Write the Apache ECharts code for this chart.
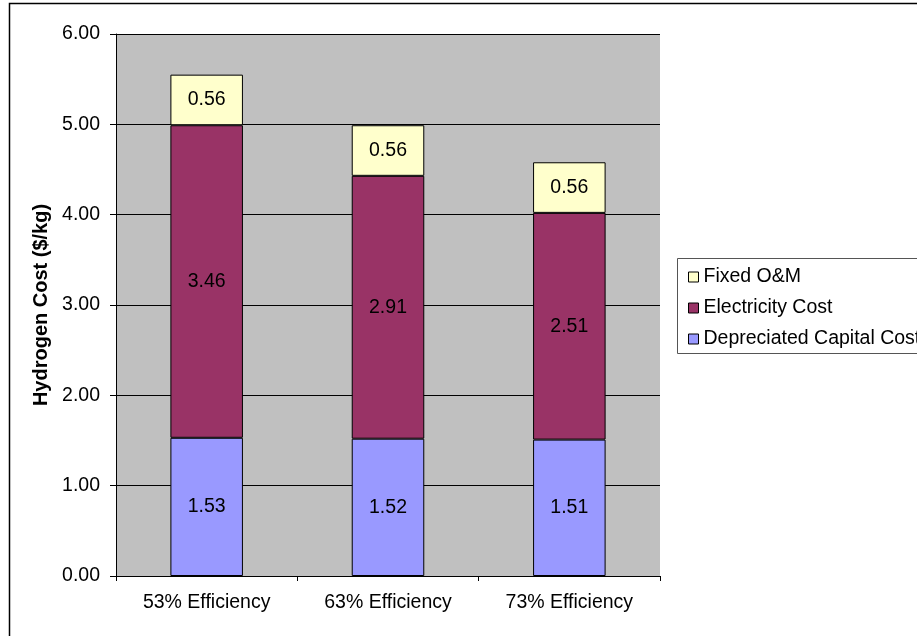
<!DOCTYPE html>
<html>
<head>
<meta charset="utf-8">
<title>Hydrogen Cost by Efficiency</title>
<script src="https://cdn.jsdelivr.net/npm/echarts@6/dist/echarts.min.js"></script>
<style>
  html, body { margin: 0; padding: 0; background: #ffffff; }
  #chart { width: 917px; height: 636px; }
</style>
</head>
<body>
<div id="chart"></div>
<script>
// Cost breakdown per efficiency case ($/kg of hydrogen)
const categories = ['53% Efficiency', '63% Efficiency', '73% Efficiency'];
const capitalCost = [1.53, 1.52, 1.51];
const electricityCost = [3.46, 2.91, 2.51];
const fixedOM = [0.56, 0.56, 0.56];
const seriesNames = ['Depreciated Capital Cost', 'Electricity Cost', 'Fixed O&M'];
const yTicks = [0, 1, 2, 3, 4, 5, 6];

const FONT = 'Liberation Sans, Arial, sans-serif';
const FS = 19.5;

const chart = echarts.init(document.getElementById('chart'), null, { renderer: 'canvas' });

function barSeries(name, values, color) {
  return {
    name: name,
    type: 'bar',
    stack: 'cost',
    barWidth: '40%',
    data: values,
    itemStyle: { color: color, borderColor: '#000000', borderWidth: 1 },
    label: {
      show: true,
      position: 'inside',
      color: '#000000',
      fontFamily: FONT,
      fontSize: FS,
      formatter: p => p.value.toFixed(2)
    },
    emphasis: { disabled: true }
  };
}

chart.setOption({
  animation: false,
  backgroundColor: '#ffffff',
  graphic: [
    {
      type: 'rect', z: 0, silent: true,
      shape: { x: 9.5, y: 3.5, width: 1000, height: 1000 },
      style: { fill: 'none', stroke: '#000000', lineWidth: 1.5 }
    },
    {
      type: 'rect', z: 0, silent: true,
      shape: { x: 677.5, y: 258.5, width: 400, height: 95 },
      style: { fill: '#ffffff', stroke: '#555555', lineWidth: 1 }
    }
  ],
  grid: {
    left: 116, top: 34, right: 257, bottom: 60,
    show: true, backgroundColor: '#c0c0c0', borderWidth: 0
  },
  legend: {
    orient: 'vertical',
    left: 683, top: 262,
    icon: 'rect',
    itemWidth: 10, itemHeight: 10,
    itemGap: 11,
    itemStyle: { borderColor: '#000000', borderWidth: 1 },
    textStyle: { fontFamily: FONT, fontSize: FS, color: '#000000', lineHeight: 20 },
    data: ['Fixed O&M', 'Electricity Cost', 'Depreciated Capital Cost'],
    selectedMode: false
  },
  xAxis: {
    type: 'category',
    data: categories,
    axisLine: { lineStyle: { color: '#000000', width: 1 } },
    axisTick: { show: true, length: 5, lineStyle: { color: '#000000' } },
    axisLabel: { color: '#000000', fontFamily: FONT, fontSize: FS, margin: 17 }
  },
  yAxis: {
    type: 'value',
    min: yTicks[0], max: yTicks[yTicks.length - 1], interval: 1,
    name: 'Hydrogen Cost ($/kg)',
    nameLocation: 'middle',
    nameGap: 63,
    nameRotate: 90,
    nameTextStyle: { color: '#000000', fontFamily: FONT, fontSize: 20, fontWeight: 'bold' },
    axisLine: { show: true, lineStyle: { color: '#000000', width: 1 } },
    axisTick: { show: true, length: 6, lineStyle: { color: '#000000' } },
    splitLine: { show: true, lineStyle: { color: '#000000', width: 1 } },
    axisLabel: {
      color: '#000000', fontFamily: FONT, fontSize: FS, margin: 16,
      formatter: v => v.toFixed(2)
    }
  },
  series: [
    barSeries(seriesNames[0], capitalCost, '#9999ff'),
    barSeries(seriesNames[1], electricityCost, '#993366'),
    barSeries(seriesNames[2], fixedOM, '#ffffcc')
  ]
});
</script>
</body>
</html>
